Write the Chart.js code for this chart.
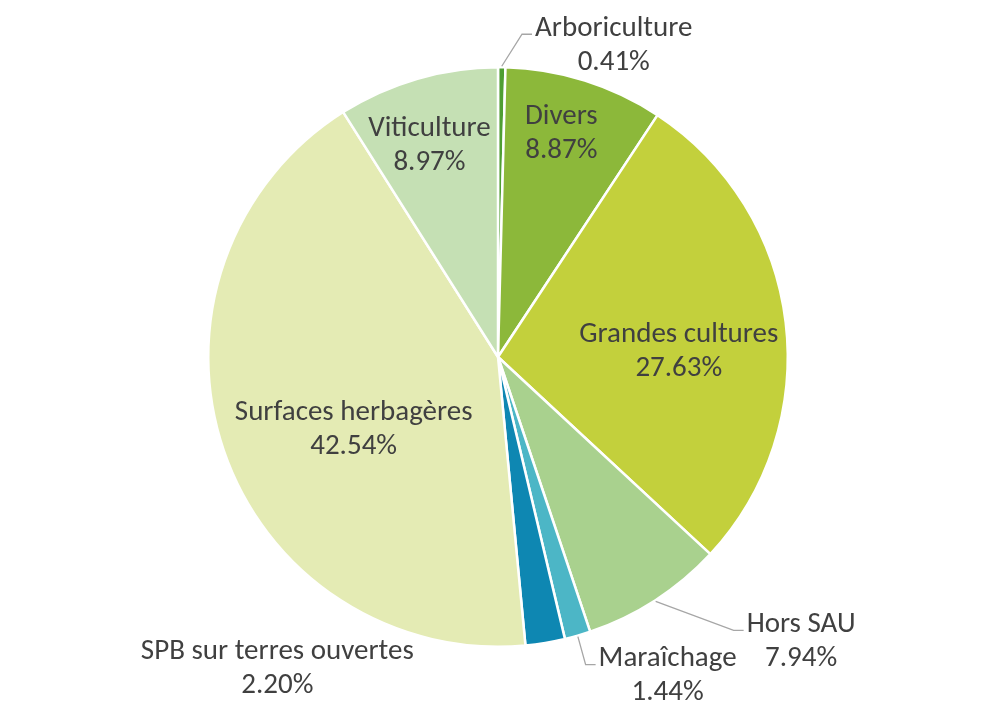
<!DOCTYPE html>
<html>
<head>
<meta charset="utf-8">
<script src="https://cdn.jsdelivr.net/npm/chart.js@4/dist/chart.umd.min.js"></script>
<style>
html,body{margin:0;padding:0;background:#fff;}
#wrap{width:996px;height:715px;position:relative;}
</style>
</head>
<body>
<div id="wrap"><canvas id="c" width="996" height="715"></canvas></div>
<script>
const categories = ["Arboriculture","Divers","Grandes cultures","Hors SAU","Maraîchage","SPB sur terres ouvertes","Surfaces herbagères","Viticulture"];
const shares = [0.41, 8.87, 27.63, 7.94, 1.44, 2.20, 42.54, 8.97];
const sliceColors = ["#4f9e33","#8cb83a","#c3d03c","#a9d18e","#4cb6c6","#0e87b2","#e4ebb4","#c5e0b4"];
// label placement: f = radial fraction, dx/dy pixel offset, leader = draw leader line
const labelLayout = [
  {f:1, dx:112, dy:-22, leader:true},
  {f:0.81, dx:-7, dy:1, leader:false},
  {f:0.625, dx:1, dy:16, leader:false},
  {f:1, dx:146, dy:41, leader:true},
  {f:1, dx:90, dy:40, leader:true},
  {f:1, dx:-268, dy:26, leader:false},
  {f:0.552, dx:7, dy:21, leader:false},
  {f:0.776, dx:-6, dy:5, leader:false}
];
const FONT = '29px Carlito, Calibri, "Open Sans", sans-serif';
const LINE_H = 34;

const labelPlugin = {
  id: 'sliceLabels',
  afterDatasetsDraw(chart) {
    const ctx = chart.ctx;
    const meta = chart.getDatasetMeta(0);
    ctx.save();
    ctx.font = FONT;
    ctx.textAlign = 'center';
    ctx.textBaseline = 'middle';
    meta.data.forEach((arc, i) => {
      const p = arc.getProps(['x','y','startAngle','endAngle','outerRadius'], true);
      const mid = (p.startAngle + p.endAngle) / 2;
      const L = labelLayout[i];
      const ex = p.x + Math.cos(mid) * p.outerRadius * L.f;
      const ey = p.y + Math.sin(mid) * p.outerRadius * L.f;
      const tx = ex + L.dx, ty = ey + L.dy;
      const line1 = categories[i];
      const line2 = shares[i].toFixed(2) + '%';
      if (L.leader) {
        const w1 = ctx.measureText(line1).width;
        const left = tx - w1 / 2 - 3;
        const elbowY = ty - 11;
        const bx = left - 10;
        ctx.strokeStyle = '#a6a6a6';
        ctx.lineWidth = 1.3;
        ctx.beginPath();
        const sx = p.x + Math.cos(mid) * (p.outerRadius + 1);
        const sy = p.y + Math.sin(mid) * (p.outerRadius + 1);
        ctx.moveTo(sx, sy);
        ctx.lineTo(bx, elbowY);
        ctx.lineTo(left, elbowY);
        ctx.stroke();
      }
      ctx.fillStyle = '#404040';
      ctx.fillText(line1, tx, ty - LINE_H / 2);
      ctx.fillText(line2, tx, ty + LINE_H / 2);
    });
    ctx.restore();
  }
};

new Chart(document.getElementById('c'), {
  type: 'pie',
  data: {
    labels: categories,
    datasets: [{
      data: shares,
      backgroundColor: sliceColors,
      borderColor: '#ffffff',
      borderWidth: 2.5
    }]
  },
  options: {
    responsive: false,
    animation: false,
    layout: { padding: { top: 66, bottom: 67 } },
    plugins: { legend: { display: false }, tooltip: { enabled: false } }
  },
  plugins: [labelPlugin]
});
</script>
</body>
</html>
